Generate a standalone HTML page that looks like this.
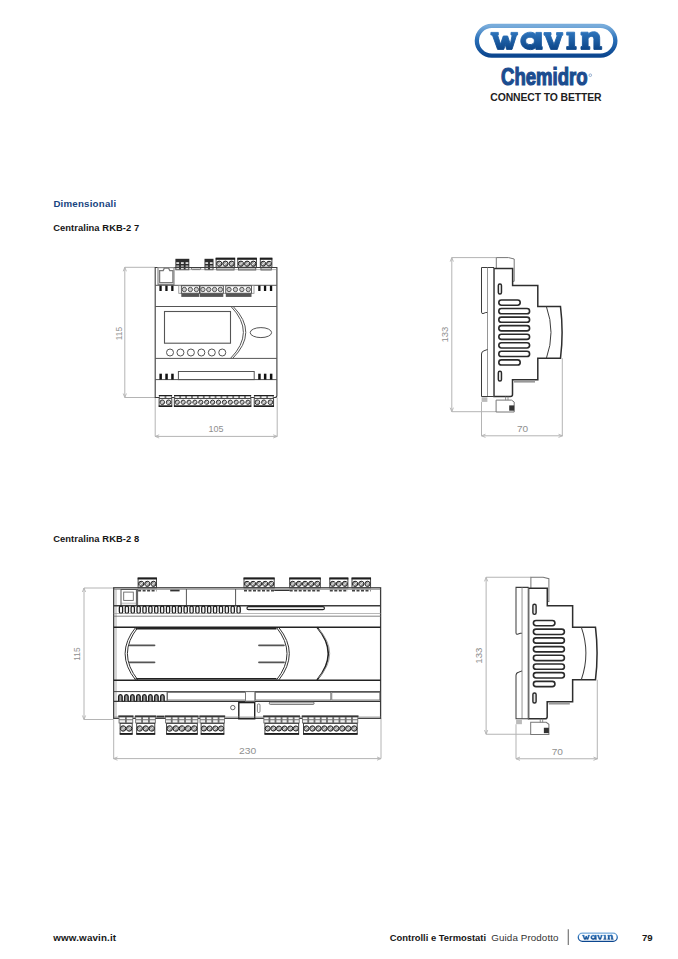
<!DOCTYPE html>
<html><head><meta charset="utf-8">
<style>
html,body{margin:0;padding:0;background:#fff;}
body{width:678px;height:959px;position:relative;overflow:hidden;font-family:"Liberation Sans",sans-serif;}
.t{position:absolute;white-space:nowrap;line-height:1;}
svg{position:absolute;left:0;top:0;}
</style></head><body>
<svg width="678" height="959" viewBox="0 0 678 959" font-family="Liberation Sans, sans-serif">
<defs>
<linearGradient id="wg" x1="0" y1="0" x2="0" y2="1">
<stop offset="0" stop-color="#78acdb"/><stop offset="0.45" stop-color="#2a70b9"/><stop offset="1" stop-color="#0b468f"/>
</linearGradient>
<linearGradient id="wg2" x1="0" y1="0" x2="0" y2="1">
<stop offset="0" stop-color="#2d74bc"/><stop offset="1" stop-color="#0c4588"/>
</linearGradient>
</defs>
<!-- header logo -->
<g>
<rect x="476.85" y="25.85" width="138.5" height="29.8" rx="14.9" ry="14.9" fill="#fff" stroke="url(#wg)" stroke-width="4.3"/>
<g fill="url(#wg2)" stroke="url(#wg2)" stroke-width="0.9" stroke-linejoin="round">
<path d="M490.9,32.4 H498.3 V35.0 H497.6 L500.5,44.2 L503.3,36.0 H507.6 L510.3,44.2 L512.2,35.0 H511.0 V32.4 H517.6 V35.0 H516.6 L512.0,49.4 H506.6 L505.3,44.6 L503.8,49.4 H497.6 L492.4,35.0 H490.9 Z"/>
<path fill-rule="evenodd" d="M541.4,32.4 V46.6 H542.2 V49.4 H535.9 V47.6 C534.5,49 532.6,49.6 530.4,49.6 C524.8,49.6 520.8,45.8 520.8,40.9 C520.8,36 524.8,32.2 530.4,32.2 C532.6,32.2 534.6,33 535.9,34.4 V32.4 Z M530,37.2 C527.4,37.2 525.6,38.8 525.6,40.9 C525.6,43 527.4,44.6 530,44.6 C532.6,44.6 534.4,43 534.4,40.9 C534.4,38.8 532.6,37.2 530,37.2 Z"/>
<path d="M544,32.6 H551 V35.2 H550.4 L554,44.4 L557.4,35.2 H556.6 V32.6 H562.8 V35.2 H561.9 L557.3,49.4 H550.7 L545.1,35.2 H544 Z"/>
<path d="M566.7,32.2 H574.6 V46.6 H576.2 V49.4 H566.7 V46.6 H569.1 V35.1 H566.7 Z"/>
<path d="M581,32.2 H588.1 V34.2 C589.6,32.6 591.4,31.8 593.6,31.8 C597.6,31.8 599.7,34.2 599.7,38.4 V46.6 H601.7 V49.4 H593.9 V39.4 C593.9,37.4 593,36.4 591.4,36.4 C589.6,36.4 588.1,37.6 588.1,39.6 V46.6 H589.8 V49.4 H581 V46.6 H582.4 V35.1 H581 Z"/>
</g>
</g>
<text x="501" y="84.6" font-size="23.5" font-weight="bold" fill="#1b4c8f" stroke="#1b4c8f" stroke-width="1.2" textLength="86.5" lengthAdjust="spacingAndGlyphs">Chemidro</text>
<circle cx="590.3" cy="75.2" r="1.3" fill="none" stroke="#7d9cc4" stroke-width="0.8"/>
<text x="490.3" y="100.8" font-size="10.4" font-weight="bold" fill="#1e1e1e" textLength="111.3" lengthAdjust="spacing">CONNECT TO BETTER</text>
<line x1="124.8" y1="267.3" x2="124.8" y2="397.5" stroke="#b4b4b4" stroke-width="1.0" />
<path d="M123.2,271.3 L124.8,267.3 L126.39999999999999,271.3" stroke="#b4b4b4" stroke-width="0.9" fill="none" />
<path d="M123.2,393.5 L124.8,397.5 L126.39999999999999,393.5" stroke="#b4b4b4" stroke-width="0.9" fill="none" />
<line x1="124.8" y1="267.3" x2="155" y2="267.3" stroke="#b4b4b4" stroke-width="1.0" />
<line x1="124.8" y1="397.5" x2="155" y2="397.5" stroke="#b4b4b4" stroke-width="1.0" />
<line x1="155.2" y1="436.4" x2="277.2" y2="436.4" stroke="#b4b4b4" stroke-width="1.0" />
<path d="M159.2,434.79999999999995 L155.2,436.4 L159.2,438.0" stroke="#b4b4b4" stroke-width="0.9" fill="none" />
<path d="M273.2,434.79999999999995 L277.2,436.4 L273.2,438.0" stroke="#b4b4b4" stroke-width="0.9" fill="none" />
<line x1="155.2" y1="397.5" x2="155.2" y2="436.4" stroke="#b4b4b4" stroke-width="1.0" />
<line x1="277.2" y1="397.5" x2="277.2" y2="436.4" stroke="#b4b4b4" stroke-width="1.0" />
<text x="121.8" y="333.5" font-size="9.5" fill="#8f8f8f" text-anchor="middle" transform="rotate(-90 121.8 333.5)" textLength="13.4" lengthAdjust="spacingAndGlyphs">115</text>
<text x="216.0" y="432.4" font-size="9.5" fill="#8f8f8f" text-anchor="middle" textLength="15.0" lengthAdjust="spacingAndGlyphs">105</text>
<rect x="175.4" y="258.8" width="13.90" height="11.40" fill="#2c2c2c"/>
<rect x="176.3" y="262.22" width="2.83" height="1.71" fill="#e8e8e8"/>
<rect x="176.3" y="265.412" width="2.83" height="1.37" fill="#bdbdbd"/>
<rect x="176.3" y="267.92" width="2.83" height="1.37" fill="#e0e0e0"/>
<rect x="180.93333333333334" y="262.22" width="2.83" height="1.71" fill="#e8e8e8"/>
<rect x="180.93333333333334" y="265.412" width="2.83" height="1.37" fill="#bdbdbd"/>
<rect x="180.93333333333334" y="267.92" width="2.83" height="1.37" fill="#e0e0e0"/>
<rect x="185.5666666666667" y="262.22" width="2.83" height="1.71" fill="#e8e8e8"/>
<rect x="185.5666666666667" y="265.412" width="2.83" height="1.37" fill="#bdbdbd"/>
<rect x="185.5666666666667" y="267.92" width="2.83" height="1.37" fill="#e0e0e0"/>
<rect x="204.5" y="258.8" width="9.00" height="11.40" fill="#2c2c2c"/>
<rect x="205.4" y="262.22" width="2.70" height="1.71" fill="#e8e8e8"/>
<rect x="205.4" y="265.412" width="2.70" height="1.37" fill="#bdbdbd"/>
<rect x="205.4" y="267.92" width="2.70" height="1.37" fill="#e0e0e0"/>
<rect x="209.9" y="262.22" width="2.70" height="1.71" fill="#e8e8e8"/>
<rect x="209.9" y="265.412" width="2.70" height="1.37" fill="#bdbdbd"/>
<rect x="209.9" y="267.92" width="2.70" height="1.37" fill="#e0e0e0"/>
<rect x="216.1" y="258.2" width="18.60" height="9.00" stroke="#333" stroke-width="0.9" fill="#fff" rx="0" />
<rect x="215.7" y="257.8" width="19.40" height="2.00" fill="#1e1e1e"/>
<circle cx="219.20" cy="263.70" r="2.603999999999999" stroke="#1e1e1e" stroke-width="1.0" fill="#a4a4a4"/>
<line x1="217.5074" y1="265.3926" x2="220.8926" y2="262.00739999999996" stroke="#f0f0f0" stroke-width="0.9" />
<circle cx="225.40" cy="263.70" r="2.603999999999999" stroke="#1e1e1e" stroke-width="1.0" fill="#a4a4a4"/>
<line x1="223.70739999999998" y1="265.3926" x2="227.09259999999998" y2="262.00739999999996" stroke="#f0f0f0" stroke-width="0.9" />
<circle cx="231.60" cy="263.70" r="2.603999999999999" stroke="#1e1e1e" stroke-width="1.0" fill="#a4a4a4"/>
<line x1="229.9074" y1="265.3926" x2="233.2926" y2="262.00739999999996" stroke="#f0f0f0" stroke-width="0.9" />
<rect x="237.8" y="258.2" width="18.60" height="9.00" stroke="#333" stroke-width="0.9" fill="#fff" rx="0" />
<rect x="237.4" y="257.8" width="19.40" height="2.00" fill="#1e1e1e"/>
<circle cx="240.90" cy="263.70" r="2.603999999999995" stroke="#1e1e1e" stroke-width="1.0" fill="#a4a4a4"/>
<line x1="239.2074" y1="265.39259999999996" x2="242.5926" y2="262.0074" stroke="#f0f0f0" stroke-width="0.9" />
<circle cx="247.10" cy="263.70" r="2.603999999999995" stroke="#1e1e1e" stroke-width="1.0" fill="#a4a4a4"/>
<line x1="245.4074" y1="265.39259999999996" x2="248.7926" y2="262.0074" stroke="#f0f0f0" stroke-width="0.9" />
<circle cx="253.30" cy="263.70" r="2.603999999999995" stroke="#1e1e1e" stroke-width="1.0" fill="#a4a4a4"/>
<line x1="251.60739999999998" y1="265.39259999999996" x2="254.99259999999998" y2="262.0074" stroke="#f0f0f0" stroke-width="0.9" />
<rect x="260.3" y="258.2" width="11.60" height="9.00" stroke="#333" stroke-width="0.9" fill="#fff" rx="0" />
<rect x="259.90000000000003" y="257.8" width="12.40" height="2.00" fill="#1e1e1e"/>
<circle cx="263.20" cy="263.70" r="2.435999999999993" stroke="#1e1e1e" stroke-width="1.0" fill="#a4a4a4"/>
<line x1="261.6166" y1="265.2834" x2="264.7834" y2="262.1166" stroke="#f0f0f0" stroke-width="0.9" />
<circle cx="269.00" cy="263.70" r="2.435999999999993" stroke="#1e1e1e" stroke-width="1.0" fill="#a4a4a4"/>
<line x1="267.4166" y1="265.2834" x2="270.5834" y2="262.1166" stroke="#f0f0f0" stroke-width="0.9" />
<rect x="216.7" y="267.4" width="17.40" height="2.60" stroke="#3a3a3a" stroke-width="0.8" fill="#c4c4c4" rx="0" />
<rect x="238.4" y="267.4" width="17.40" height="2.60" stroke="#3a3a3a" stroke-width="0.8" fill="#c4c4c4" rx="0" />
<rect x="260.90000000000003" y="267.4" width="10.40" height="2.60" stroke="#3a3a3a" stroke-width="0.8" fill="#c4c4c4" rx="0" />
<rect x="191.4" y="267.6" width="9.30" height="2.00" stroke="#555" stroke-width="0.8" fill="#ddd" rx="1" />
<path d="M155.2,267.5 H276.9 V395.5 Q276.9,397.5 274.9,397.5 H155.2 Z" stroke="#3c3c3c" stroke-width="1.1" fill="none" />
<line x1="175" y1="269.6" x2="276.9" y2="269.6" stroke="#888" stroke-width="0.6" />
<rect x="158.0" y="267.6" width="16.00" height="16.80" stroke="#8a8a8a" stroke-width="1.2" fill="none" rx="0" />
<path d="M159.6,270.6 H163.2 L164.3,268.2 H168.6 L169.8,270.6 H172.9 V282.6 H159.6 Z" stroke="#7a7a7a" stroke-width="1.3" fill="none" />
<line x1="155.2" y1="285.3" x2="276.9" y2="285.3" stroke="#555" stroke-width="1.0" />
<line x1="155.2" y1="306.5" x2="276.9" y2="306.5" stroke="#555" stroke-width="1.0" />
<line x1="155.2" y1="358.4" x2="276.9" y2="358.4" stroke="#555" stroke-width="1.0" />
<line x1="155.2" y1="379.6" x2="276.9" y2="379.6" stroke="#555" stroke-width="1.0" />
<rect x="159.4" y="285.6" width="2.30" height="5.40" fill="#111"/>
<rect x="159.4" y="373.7" width="2.50" height="5.90" fill="#111"/>
<rect x="165.3" y="285.6" width="2.30" height="5.40" fill="#111"/>
<rect x="165.3" y="373.7" width="2.50" height="5.90" fill="#111"/>
<rect x="171.2" y="285.6" width="2.30" height="5.40" fill="#111"/>
<rect x="171.2" y="373.7" width="2.50" height="5.90" fill="#111"/>
<rect x="258.2" y="285.6" width="2.30" height="5.40" fill="#111"/>
<rect x="258.2" y="373.7" width="2.50" height="5.90" fill="#111"/>
<rect x="263.9" y="285.6" width="2.30" height="5.40" fill="#111"/>
<rect x="263.9" y="373.7" width="2.50" height="5.90" fill="#111"/>
<rect x="269.9" y="285.6" width="2.30" height="5.40" fill="#111"/>
<rect x="269.9" y="373.7" width="2.50" height="5.90" fill="#111"/>
<rect x="178.8" y="285.6" width="75.20" height="7.70" stroke="#888" stroke-width="0.8" fill="#fff" rx="0" />
<rect x="181.3" y="285.8" width="18.10" height="7.40" stroke="#333" stroke-width="0.8" fill="#fff" rx="0" />
<circle cx="184.32" cy="289.50" r="2.2" stroke="#333" stroke-width="0.8" fill="#ccc"/>
<circle cx="190.35" cy="289.50" r="2.2" stroke="#333" stroke-width="0.8" fill="#ccc"/>
<circle cx="196.38" cy="289.50" r="2.2" stroke="#333" stroke-width="0.8" fill="#ccc"/>
<rect x="181.3" y="293.5" width="18.10" height="3.40" fill="#555"/>
<rect x="200.0" y="285.8" width="23.30" height="7.40" stroke="#333" stroke-width="0.8" fill="#fff" rx="0" />
<circle cx="202.91" cy="289.50" r="2.2" stroke="#333" stroke-width="0.8" fill="#ccc"/>
<circle cx="208.74" cy="289.50" r="2.2" stroke="#333" stroke-width="0.8" fill="#ccc"/>
<circle cx="214.56" cy="289.50" r="2.2" stroke="#333" stroke-width="0.8" fill="#ccc"/>
<circle cx="220.39" cy="289.50" r="2.2" stroke="#333" stroke-width="0.8" fill="#ccc"/>
<rect x="200.0" y="293.5" width="23.30" height="3.40" fill="#555"/>
<rect x="225.8" y="285.8" width="25.70" height="7.40" stroke="#333" stroke-width="0.8" fill="#fff" rx="0" />
<circle cx="229.01" cy="289.50" r="2.2" stroke="#333" stroke-width="0.8" fill="#ccc"/>
<circle cx="235.44" cy="289.50" r="2.2" stroke="#333" stroke-width="0.8" fill="#ccc"/>
<circle cx="241.86" cy="289.50" r="2.2" stroke="#333" stroke-width="0.8" fill="#ccc"/>
<circle cx="248.29" cy="289.50" r="2.2" stroke="#333" stroke-width="0.8" fill="#ccc"/>
<rect x="225.8" y="293.5" width="25.70" height="3.40" fill="#555"/>
<rect x="164.5" y="311.5" width="66.00" height="31.70" stroke="#555" stroke-width="1.1" fill="none" rx="0" />
<circle cx="170.00" cy="352.50" r="3.5" stroke="#555" stroke-width="1.0" fill="none"/>
<circle cx="180.45" cy="352.50" r="3.5" stroke="#555" stroke-width="1.0" fill="none"/>
<circle cx="190.90" cy="352.50" r="3.5" stroke="#555" stroke-width="1.0" fill="none"/>
<circle cx="201.35" cy="352.50" r="3.5" stroke="#555" stroke-width="1.0" fill="none"/>
<circle cx="211.80" cy="352.50" r="3.5" stroke="#555" stroke-width="1.0" fill="none"/>
<circle cx="222.25" cy="352.50" r="3.5" stroke="#555" stroke-width="1.0" fill="none"/>
<path d="M231,306.5 Q256,332.4 230.5,358.4" stroke="#555" stroke-width="1.0" fill="none" />
<path d="M233.2,306.5 Q258.6,332.4 232.7,358.4" stroke="#555" stroke-width="1.0" fill="none" />
<ellipse cx="260.9" cy="332.6" rx="10.7" ry="5" stroke="#555" stroke-width="1" fill="none"/>
<rect x="178.4" y="371.5" width="75.80" height="8.10" stroke="#555" stroke-width="1.0" fill="none" rx="0" />
<rect x="159.1" y="395.3" width="12.70" height="3.30" fill="#6e6e6e"/>
<rect x="160.0" y="396.125" width="4.55" height="1.98" fill="#f4f4f4"/>
<rect x="166.35" y="396.125" width="4.55" height="1.98" fill="#f4f4f4"/>
<rect x="158.79999999999998" y="395.0" width="13.30" height="1.20" fill="#1e1e1e"/>
<rect x="159.1" y="398.6" width="12.70" height="7.90" stroke="#333" stroke-width="0.9" fill="#fff" rx="0" />
<circle cx="162.28" cy="402.25" r="2.286000000000003" stroke="#1e1e1e" stroke-width="0.9" fill="#b4b4b4"/>
<line x1="160.7891" y1="403.7359" x2="163.76090000000002" y2="400.7641" stroke="#f0f0f0" stroke-width="0.9" />
<circle cx="168.62" cy="402.25" r="2.286000000000003" stroke="#1e1e1e" stroke-width="0.9" fill="#b4b4b4"/>
<line x1="167.13909999999998" y1="403.7359" x2="170.11090000000002" y2="400.7641" stroke="#f0f0f0" stroke-width="0.9" />
<rect x="158.79999999999998" y="405.3" width="13.30" height="1.70" fill="#1e1e1e"/>
<rect x="174.3" y="395.3" width="76.60" height="3.30" fill="#6e6e6e"/>
<rect x="175.20000000000002" y="396.125" width="4.09" height="1.98" fill="#f4f4f4"/>
<rect x="181.0923076923077" y="396.125" width="4.09" height="1.98" fill="#f4f4f4"/>
<rect x="186.9846153846154" y="396.125" width="4.09" height="1.98" fill="#f4f4f4"/>
<rect x="192.87692307692308" y="396.125" width="4.09" height="1.98" fill="#f4f4f4"/>
<rect x="198.76923076923077" y="396.125" width="4.09" height="1.98" fill="#f4f4f4"/>
<rect x="204.66153846153847" y="396.125" width="4.09" height="1.98" fill="#f4f4f4"/>
<rect x="210.55384615384617" y="396.125" width="4.09" height="1.98" fill="#f4f4f4"/>
<rect x="216.44615384615386" y="396.125" width="4.09" height="1.98" fill="#f4f4f4"/>
<rect x="222.33846153846156" y="396.125" width="4.09" height="1.98" fill="#f4f4f4"/>
<rect x="228.23076923076925" y="396.125" width="4.09" height="1.98" fill="#f4f4f4"/>
<rect x="234.12307692307692" y="396.125" width="4.09" height="1.98" fill="#f4f4f4"/>
<rect x="240.01538461538465" y="396.125" width="4.09" height="1.98" fill="#f4f4f4"/>
<rect x="245.90769230769232" y="396.125" width="4.09" height="1.98" fill="#f4f4f4"/>
<rect x="174.0" y="395.0" width="77.20" height="1.20" fill="#1e1e1e"/>
<rect x="174.3" y="398.6" width="76.60" height="7.90" stroke="#333" stroke-width="0.9" fill="#fff" rx="0" />
<circle cx="177.25" cy="402.25" r="2.121230769230769" stroke="#1e1e1e" stroke-width="0.9" fill="#b4b4b4"/>
<line x1="175.86735384615383" y1="403.6288" x2="178.62495384615386" y2="400.8712" stroke="#f0f0f0" stroke-width="0.9" />
<circle cx="183.14" cy="402.25" r="2.121230769230769" stroke="#1e1e1e" stroke-width="0.9" fill="#b4b4b4"/>
<line x1="181.75966153846153" y1="403.6288" x2="184.51726153846155" y2="400.8712" stroke="#f0f0f0" stroke-width="0.9" />
<circle cx="189.03" cy="402.25" r="2.121230769230769" stroke="#1e1e1e" stroke-width="0.9" fill="#b4b4b4"/>
<line x1="187.65196923076923" y1="403.6288" x2="190.40956923076925" y2="400.8712" stroke="#f0f0f0" stroke-width="0.9" />
<circle cx="194.92" cy="402.25" r="2.121230769230769" stroke="#1e1e1e" stroke-width="0.9" fill="#b4b4b4"/>
<line x1="193.54427692307692" y1="403.6288" x2="196.30187692307695" y2="400.8712" stroke="#f0f0f0" stroke-width="0.9" />
<circle cx="200.82" cy="402.25" r="2.121230769230769" stroke="#1e1e1e" stroke-width="0.9" fill="#b4b4b4"/>
<line x1="199.43658461538462" y1="403.6288" x2="202.19418461538464" y2="400.8712" stroke="#f0f0f0" stroke-width="0.9" />
<circle cx="206.71" cy="402.25" r="2.121230769230769" stroke="#1e1e1e" stroke-width="0.9" fill="#b4b4b4"/>
<line x1="205.3288923076923" y1="403.6288" x2="208.08649230769234" y2="400.8712" stroke="#f0f0f0" stroke-width="0.9" />
<circle cx="212.60" cy="402.25" r="2.121230769230769" stroke="#1e1e1e" stroke-width="0.9" fill="#b4b4b4"/>
<line x1="211.2212" y1="403.6288" x2="213.97880000000004" y2="400.8712" stroke="#f0f0f0" stroke-width="0.9" />
<circle cx="218.49" cy="402.25" r="2.121230769230769" stroke="#1e1e1e" stroke-width="0.9" fill="#b4b4b4"/>
<line x1="217.11350769230768" y1="403.6288" x2="219.8711076923077" y2="400.8712" stroke="#f0f0f0" stroke-width="0.9" />
<circle cx="224.38" cy="402.25" r="2.121230769230769" stroke="#1e1e1e" stroke-width="0.9" fill="#b4b4b4"/>
<line x1="223.00581538461537" y1="403.6288" x2="225.7634153846154" y2="400.8712" stroke="#f0f0f0" stroke-width="0.9" />
<circle cx="230.28" cy="402.25" r="2.121230769230769" stroke="#1e1e1e" stroke-width="0.9" fill="#b4b4b4"/>
<line x1="228.89812307692307" y1="403.6288" x2="231.6557230769231" y2="400.8712" stroke="#f0f0f0" stroke-width="0.9" />
<circle cx="236.17" cy="402.25" r="2.121230769230769" stroke="#1e1e1e" stroke-width="0.9" fill="#b4b4b4"/>
<line x1="234.79043076923077" y1="403.6288" x2="237.5480307692308" y2="400.8712" stroke="#f0f0f0" stroke-width="0.9" />
<circle cx="242.06" cy="402.25" r="2.121230769230769" stroke="#1e1e1e" stroke-width="0.9" fill="#b4b4b4"/>
<line x1="240.68273846153846" y1="403.6288" x2="243.4403384615385" y2="400.8712" stroke="#f0f0f0" stroke-width="0.9" />
<circle cx="247.95" cy="402.25" r="2.121230769230769" stroke="#1e1e1e" stroke-width="0.9" fill="#b4b4b4"/>
<line x1="246.57504615384613" y1="403.6288" x2="249.33264615384616" y2="400.8712" stroke="#f0f0f0" stroke-width="0.9" />
<rect x="174.0" y="405.3" width="77.20" height="1.70" fill="#1e1e1e"/>
<rect x="254.2" y="395.3" width="19.40" height="3.30" fill="#6e6e6e"/>
<rect x="255.1" y="396.125" width="4.67" height="1.98" fill="#f4f4f4"/>
<rect x="261.56666666666666" y="396.125" width="4.67" height="1.98" fill="#f4f4f4"/>
<rect x="268.0333333333333" y="396.125" width="4.67" height="1.98" fill="#f4f4f4"/>
<rect x="253.89999999999998" y="395.0" width="20.00" height="1.20" fill="#1e1e1e"/>
<rect x="254.2" y="398.6" width="19.40" height="7.90" stroke="#333" stroke-width="0.9" fill="#fff" rx="0" />
<circle cx="257.43" cy="402.25" r="2.3280000000000043" stroke="#1e1e1e" stroke-width="0.9" fill="#b4b4b4"/>
<line x1="255.92013333333333" y1="403.7632" x2="258.9465333333333" y2="400.7368" stroke="#f0f0f0" stroke-width="0.9" />
<circle cx="263.90" cy="402.25" r="2.3280000000000043" stroke="#1e1e1e" stroke-width="0.9" fill="#b4b4b4"/>
<line x1="262.3868" y1="403.7632" x2="265.41319999999996" y2="400.7368" stroke="#f0f0f0" stroke-width="0.9" />
<circle cx="270.37" cy="402.25" r="2.3280000000000043" stroke="#1e1e1e" stroke-width="0.9" fill="#b4b4b4"/>
<line x1="268.8534666666667" y1="403.7632" x2="271.87986666666666" y2="400.7368" stroke="#f0f0f0" stroke-width="0.9" />
<rect x="253.89999999999998" y="405.3" width="20.00" height="1.70" fill="#1e1e1e"/>
<g>
<line x1="451.8" y1="257.6" x2="451.8" y2="411.7" stroke="#b4b4b4" stroke-width="1.0" />
<path d="M450.2,261.6 L451.8,257.6 L453.40000000000003,261.6" stroke="#b4b4b4" stroke-width="0.9" fill="none" />
<path d="M450.2,407.7 L451.8,411.7 L453.40000000000003,407.7" stroke="#b4b4b4" stroke-width="0.9" fill="none" />
<line x1="451.8" y1="257.6" x2="496.3" y2="257.6" stroke="#b4b4b4" stroke-width="1.0" />
<line x1="451.8" y1="411.7" x2="496.1" y2="411.7" stroke="#b4b4b4" stroke-width="1.0" />
<line x1="481.5" y1="435.8" x2="562.5" y2="435.8" stroke="#b4b4b4" stroke-width="1.0" />
<path d="M485.5,434.2 L481.5,435.8 L485.5,437.40000000000003" stroke="#b4b4b4" stroke-width="0.9" fill="none" />
<path d="M558.5,434.2 L562.5,435.8 L558.5,437.40000000000003" stroke="#b4b4b4" stroke-width="0.9" fill="none" />
<line x1="481.5" y1="402" x2="481.5" y2="435.8" stroke="#b4b4b4" stroke-width="1.0" />
<line x1="562.3" y1="358.2" x2="562.3" y2="435.8" stroke="#b4b4b4" stroke-width="1.0" />
<text x="448.0" y="334.5" font-size="9.5" fill="#8f8f8f" text-anchor="middle" transform="rotate(-90 448.0 334.5)" textLength="15.8" lengthAdjust="spacingAndGlyphs">133</text>
<text x="522.6" y="431.7" font-size="9.5" fill="#8f8f8f" text-anchor="middle" textLength="11.2" lengthAdjust="spacingAndGlyphs">70</text>
<path d="M496.3,268 V257.6 H508.5 L514.2,259 V281.3 H512.6" stroke="#777" stroke-width="1.0" fill="none" />
<path d="M494,267.5 H481.5 V312.2 Q481.5,313.6 483,313.6 L485.8,312.5 H487.5" stroke="#3c3c3c" stroke-width="1.0" fill="none" />
<line x1="487.5" y1="267.5" x2="487.5" y2="396.5" stroke="#8a8a8a" stroke-width="0.9" />
<path d="M487.5,349.5 L484,350.8 Q481.5,351.5 481.5,354 V396.5 H494" stroke="#3c3c3c" stroke-width="1.0" fill="none" />
<rect x="481.6" y="397.3" width="5.80" height="4.60" fill="#bbb"/>
<path d="M494,396.5 V268.4 H512.6 V285.5 H537.8 V306.6 H560.5 Q563.7,332.4 560.5,358.2 H537.8 V379.8 H512.5 V394.5 Q512.5,396.5 510.5,396.5 Z" stroke="#2e2e2e" stroke-width="1.5" fill="none" />
<line x1="493.8" y1="268.4" x2="493.8" y2="396.5" stroke="#777" stroke-width="1.0" />
<path d="M546.4,306.6 Q555.6,332.4 546.4,358.2" stroke="#3c3c3c" stroke-width="1.0" fill="none" />
<rect x="514" y="380.3" width="21.00" height="2.30" fill="#999"/>
<rect x="498.3" y="284.0" width="3.20" height="10.00" stroke="#2a2a2a" stroke-width="1.4" fill="#e6e6e6" rx="1.5" />
<rect x="498.3" y="371.3" width="3.20" height="9.70" stroke="#2a2a2a" stroke-width="1.4" fill="#e6e6e6" rx="1.5" />
<rect x="498.8" y="300.0" width="21.40" height="5.20" stroke="#2a2a2a" stroke-width="1.6" fill="none" rx="2.6" />
<rect x="498.8" y="308.55" width="30.80" height="5.20" stroke="#2a2a2a" stroke-width="1.6" fill="none" rx="2.6" />
<rect x="498.8" y="317.1" width="30.80" height="5.20" stroke="#2a2a2a" stroke-width="1.6" fill="none" rx="2.6" />
<rect x="498.8" y="325.65" width="30.80" height="5.20" stroke="#2a2a2a" stroke-width="1.6" fill="none" rx="2.6" />
<rect x="498.8" y="334.2" width="30.80" height="5.20" stroke="#2a2a2a" stroke-width="1.6" fill="none" rx="2.6" />
<rect x="498.8" y="342.75" width="30.80" height="5.20" stroke="#2a2a2a" stroke-width="1.6" fill="none" rx="2.6" />
<rect x="498.8" y="351.3" width="30.80" height="5.20" stroke="#2a2a2a" stroke-width="1.6" fill="none" rx="2.6" />
<rect x="498.8" y="359.85" width="21.40" height="5.20" stroke="#2a2a2a" stroke-width="1.6" fill="none" rx="2.6" />
<path d="M496.1,400.1 H511.5 L514.2,402 V412 H496.1 Z" stroke="#777" stroke-width="1.0" fill="none" />
<rect x="509.2" y="405.4" width="5.00" height="5.30" fill="#333"/>
<line x1="505.6" y1="396.5" x2="505.6" y2="400.1" stroke="#777" stroke-width="0.8" />
<line x1="508.0" y1="396.5" x2="508.0" y2="400.1" stroke="#777" stroke-width="0.8" />
</g>
<g transform="translate(516,577.4) scale(1.006,1.018) translate(-481.5,-257.7)">
<line x1="451.8" y1="257.6" x2="451.8" y2="411.7" stroke="#b4b4b4" stroke-width="1.0" />
<path d="M450.2,261.6 L451.8,257.6 L453.40000000000003,261.6" stroke="#b4b4b4" stroke-width="0.9" fill="none" />
<path d="M450.2,407.7 L451.8,411.7 L453.40000000000003,407.7" stroke="#b4b4b4" stroke-width="0.9" fill="none" />
<line x1="451.8" y1="257.6" x2="496.3" y2="257.6" stroke="#b4b4b4" stroke-width="1.0" />
<line x1="451.8" y1="411.7" x2="496.1" y2="411.7" stroke="#b4b4b4" stroke-width="1.0" />
<line x1="481.5" y1="435.8" x2="562.5" y2="435.8" stroke="#b4b4b4" stroke-width="1.0" />
<path d="M485.5,434.2 L481.5,435.8 L485.5,437.40000000000003" stroke="#b4b4b4" stroke-width="0.9" fill="none" />
<path d="M558.5,434.2 L562.5,435.8 L558.5,437.40000000000003" stroke="#b4b4b4" stroke-width="0.9" fill="none" />
<line x1="481.5" y1="402" x2="481.5" y2="435.8" stroke="#b4b4b4" stroke-width="1.0" />
<line x1="562.3" y1="358.2" x2="562.3" y2="435.8" stroke="#b4b4b4" stroke-width="1.0" />
<text x="448.0" y="334.5" font-size="9.5" fill="#8f8f8f" text-anchor="middle" transform="rotate(-90 448.0 334.5)" textLength="15.8" lengthAdjust="spacingAndGlyphs">133</text>
<text x="522.6" y="431.7" font-size="9.5" fill="#8f8f8f" text-anchor="middle" textLength="11.2" lengthAdjust="spacingAndGlyphs">70</text>
<path d="M496.3,268 V257.6 H508.5 L514.2,259 V281.3 H512.6" stroke="#777" stroke-width="1.0" fill="none" />
<path d="M494,267.5 H481.5 V312.2 Q481.5,313.6 483,313.6 L485.8,312.5 H487.5" stroke="#3c3c3c" stroke-width="1.0" fill="none" />
<line x1="487.5" y1="267.5" x2="487.5" y2="396.5" stroke="#8a8a8a" stroke-width="0.9" />
<path d="M487.5,349.5 L484,350.8 Q481.5,351.5 481.5,354 V396.5 H494" stroke="#3c3c3c" stroke-width="1.0" fill="none" />
<rect x="481.6" y="397.3" width="5.80" height="4.60" fill="#bbb"/>
<path d="M494,396.5 V268.4 H512.6 V285.5 H537.8 V306.6 H560.5 Q563.7,332.4 560.5,358.2 H537.8 V379.8 H512.5 V394.5 Q512.5,396.5 510.5,396.5 Z" stroke="#2e2e2e" stroke-width="1.5" fill="none" />
<line x1="493.8" y1="268.4" x2="493.8" y2="396.5" stroke="#777" stroke-width="1.0" />
<path d="M546.4,306.6 Q555.6,332.4 546.4,358.2" stroke="#3c3c3c" stroke-width="1.0" fill="none" />
<rect x="514" y="380.3" width="21.00" height="2.30" fill="#999"/>
<rect x="498.3" y="284.0" width="3.20" height="10.00" stroke="#2a2a2a" stroke-width="1.4" fill="#e6e6e6" rx="1.5" />
<rect x="498.3" y="371.3" width="3.20" height="9.70" stroke="#2a2a2a" stroke-width="1.4" fill="#e6e6e6" rx="1.5" />
<rect x="498.8" y="300.0" width="21.40" height="5.20" stroke="#2a2a2a" stroke-width="1.6" fill="none" rx="2.6" />
<rect x="498.8" y="308.55" width="30.80" height="5.20" stroke="#2a2a2a" stroke-width="1.6" fill="none" rx="2.6" />
<rect x="498.8" y="317.1" width="30.80" height="5.20" stroke="#2a2a2a" stroke-width="1.6" fill="none" rx="2.6" />
<rect x="498.8" y="325.65" width="30.80" height="5.20" stroke="#2a2a2a" stroke-width="1.6" fill="none" rx="2.6" />
<rect x="498.8" y="334.2" width="30.80" height="5.20" stroke="#2a2a2a" stroke-width="1.6" fill="none" rx="2.6" />
<rect x="498.8" y="342.75" width="30.80" height="5.20" stroke="#2a2a2a" stroke-width="1.6" fill="none" rx="2.6" />
<rect x="498.8" y="351.3" width="30.80" height="5.20" stroke="#2a2a2a" stroke-width="1.6" fill="none" rx="2.6" />
<rect x="498.8" y="359.85" width="21.40" height="5.20" stroke="#2a2a2a" stroke-width="1.6" fill="none" rx="2.6" />
<path d="M496.1,400.1 H511.5 L514.2,402 V412 H496.1 Z" stroke="#777" stroke-width="1.0" fill="none" />
<rect x="509.2" y="405.4" width="5.00" height="5.30" fill="#333"/>
<line x1="505.6" y1="396.5" x2="505.6" y2="400.1" stroke="#777" stroke-width="0.8" />
<line x1="508.0" y1="396.5" x2="508.0" y2="400.1" stroke="#777" stroke-width="0.8" />
</g>
<line x1="84" y1="588" x2="84" y2="719.5" stroke="#b4b4b4" stroke-width="1.0" />
<path d="M82.4,592 L84,588 L85.6,592" stroke="#b4b4b4" stroke-width="0.9" fill="none" />
<path d="M82.4,715.5 L84,719.5 L85.6,715.5" stroke="#b4b4b4" stroke-width="0.9" fill="none" />
<line x1="84" y1="588" x2="113.7" y2="588" stroke="#b4b4b4" stroke-width="1.0" />
<line x1="84" y1="719.5" x2="113.7" y2="719.5" stroke="#b4b4b4" stroke-width="1.0" />
<line x1="113.5" y1="758.6" x2="381.0" y2="758.6" stroke="#b4b4b4" stroke-width="1.0" />
<path d="M117.5,757.0 L113.5,758.6 L117.5,760.2" stroke="#b4b4b4" stroke-width="0.9" fill="none" />
<path d="M377.0,757.0 L381.0,758.6 L377.0,760.2" stroke="#b4b4b4" stroke-width="0.9" fill="none" />
<line x1="113.7" y1="719.5" x2="113.7" y2="758.6" stroke="#b4b4b4" stroke-width="1.0" />
<line x1="381" y1="718.5" x2="381" y2="758.6" stroke="#b4b4b4" stroke-width="1.0" />
<text x="79.9" y="654.0" font-size="9.5" fill="#8f8f8f" text-anchor="middle" transform="rotate(-90 79.9 654.0)" textLength="13.4" lengthAdjust="spacingAndGlyphs">115</text>
<text x="247.6" y="754.3" font-size="9.5" fill="#8f8f8f" text-anchor="middle" textLength="17.2" lengthAdjust="spacingAndGlyphs">230</text>
<rect x="138.1" y="578.0" width="18.40" height="9.80" stroke="#333" stroke-width="0.9" fill="#fff" rx="0" />
<rect x="137.7" y="577.6" width="19.20" height="1.90" fill="#1e1e1e"/>
<circle cx="141.17" cy="583.85" r="2.576000000000001" stroke="#1e1e1e" stroke-width="1.0" fill="#a4a4a4"/>
<line x1="139.49226666666667" y1="585.5244" x2="142.84106666666665" y2="582.1756" stroke="#f0f0f0" stroke-width="0.9" />
<circle cx="147.30" cy="583.85" r="2.576000000000001" stroke="#1e1e1e" stroke-width="1.0" fill="#a4a4a4"/>
<line x1="145.62560000000002" y1="585.5244" x2="148.9744" y2="582.1756" stroke="#f0f0f0" stroke-width="0.9" />
<circle cx="153.43" cy="583.85" r="2.576000000000001" stroke="#1e1e1e" stroke-width="1.0" fill="#a4a4a4"/>
<line x1="151.75893333333335" y1="585.5244" x2="155.10773333333333" y2="582.1756" stroke="#f0f0f0" stroke-width="0.9" />
<line x1="138.1" y1="590.6" x2="156.5" y2="590.6" stroke="#444" stroke-width="1.6" stroke-dasharray="3 1.5"/>
<rect x="244.0" y="578.0" width="30.20" height="9.80" stroke="#333" stroke-width="0.9" fill="#fff" rx="0" />
<rect x="243.6" y="577.6" width="31.00" height="1.90" fill="#1e1e1e"/>
<circle cx="247.02" cy="583.85" r="2.5367999999999986" stroke="#1e1e1e" stroke-width="1.0" fill="#a4a4a4"/>
<line x1="245.37108" y1="585.49892" x2="248.66892" y2="582.20108" stroke="#f0f0f0" stroke-width="0.9" />
<circle cx="253.06" cy="583.85" r="2.5367999999999986" stroke="#1e1e1e" stroke-width="1.0" fill="#a4a4a4"/>
<line x1="251.41108" y1="585.49892" x2="254.70892" y2="582.20108" stroke="#f0f0f0" stroke-width="0.9" />
<circle cx="259.10" cy="583.85" r="2.5367999999999986" stroke="#1e1e1e" stroke-width="1.0" fill="#a4a4a4"/>
<line x1="257.45108000000005" y1="585.49892" x2="260.74892" y2="582.20108" stroke="#f0f0f0" stroke-width="0.9" />
<circle cx="265.14" cy="583.85" r="2.5367999999999986" stroke="#1e1e1e" stroke-width="1.0" fill="#a4a4a4"/>
<line x1="263.49108" y1="585.49892" x2="266.78891999999996" y2="582.20108" stroke="#f0f0f0" stroke-width="0.9" />
<circle cx="271.18" cy="583.85" r="2.5367999999999986" stroke="#1e1e1e" stroke-width="1.0" fill="#a4a4a4"/>
<line x1="269.53108000000003" y1="585.49892" x2="272.82892" y2="582.20108" stroke="#f0f0f0" stroke-width="0.9" />
<line x1="244.0" y1="590.6" x2="274.2" y2="590.6" stroke="#444" stroke-width="1.6" stroke-dasharray="3 1.5"/>
<rect x="289.7" y="578.0" width="30.60" height="9.80" stroke="#333" stroke-width="0.9" fill="#fff" rx="0" />
<rect x="289.3" y="577.6" width="31.40" height="1.90" fill="#1e1e1e"/>
<circle cx="292.76" cy="583.85" r="2.570400000000002" stroke="#1e1e1e" stroke-width="1.0" fill="#a4a4a4"/>
<line x1="291.08924" y1="585.52076" x2="294.43075999999996" y2="582.17924" stroke="#f0f0f0" stroke-width="0.9" />
<circle cx="298.88" cy="583.85" r="2.570400000000002" stroke="#1e1e1e" stroke-width="1.0" fill="#a4a4a4"/>
<line x1="297.20924" y1="585.52076" x2="300.55075999999997" y2="582.17924" stroke="#f0f0f0" stroke-width="0.9" />
<circle cx="305.00" cy="583.85" r="2.570400000000002" stroke="#1e1e1e" stroke-width="1.0" fill="#a4a4a4"/>
<line x1="303.32924" y1="585.52076" x2="306.67076" y2="582.17924" stroke="#f0f0f0" stroke-width="0.9" />
<circle cx="311.12" cy="583.85" r="2.570400000000002" stroke="#1e1e1e" stroke-width="1.0" fill="#a4a4a4"/>
<line x1="309.44924000000003" y1="585.52076" x2="312.79076" y2="582.17924" stroke="#f0f0f0" stroke-width="0.9" />
<circle cx="317.24" cy="583.85" r="2.570400000000002" stroke="#1e1e1e" stroke-width="1.0" fill="#a4a4a4"/>
<line x1="315.56924000000004" y1="585.52076" x2="318.91076" y2="582.17924" stroke="#f0f0f0" stroke-width="0.9" />
<line x1="289.7" y1="590.6" x2="320.3" y2="590.6" stroke="#444" stroke-width="1.6" stroke-dasharray="3 1.5"/>
<rect x="329.8" y="578.0" width="18.10" height="9.80" stroke="#333" stroke-width="0.9" fill="#fff" rx="0" />
<rect x="329.40000000000003" y="577.6" width="18.90" height="1.90" fill="#1e1e1e"/>
<circle cx="332.82" cy="583.85" r="2.533999999999995" stroke="#1e1e1e" stroke-width="1.0" fill="#a4a4a4"/>
<line x1="331.16956666666664" y1="585.4971" x2="334.4637666666667" y2="582.2029" stroke="#f0f0f0" stroke-width="0.9" />
<circle cx="338.85" cy="583.85" r="2.533999999999995" stroke="#1e1e1e" stroke-width="1.0" fill="#a4a4a4"/>
<line x1="337.2029" y1="585.4971" x2="340.49710000000005" y2="582.2029" stroke="#f0f0f0" stroke-width="0.9" />
<circle cx="344.88" cy="583.85" r="2.533999999999995" stroke="#1e1e1e" stroke-width="1.0" fill="#a4a4a4"/>
<line x1="343.2362333333333" y1="585.4971" x2="346.53043333333335" y2="582.2029" stroke="#f0f0f0" stroke-width="0.9" />
<line x1="329.8" y1="590.6" x2="347.9" y2="590.6" stroke="#444" stroke-width="1.6" stroke-dasharray="3 1.5"/>
<rect x="352.0" y="578.0" width="18.60" height="9.80" stroke="#333" stroke-width="0.9" fill="#fff" rx="0" />
<rect x="351.6" y="577.6" width="19.40" height="1.90" fill="#1e1e1e"/>
<circle cx="355.10" cy="583.85" r="2.6040000000000028" stroke="#1e1e1e" stroke-width="1.0" fill="#a4a4a4"/>
<line x1="353.4074" y1="585.5426" x2="356.79260000000005" y2="582.1574" stroke="#f0f0f0" stroke-width="0.9" />
<circle cx="361.30" cy="583.85" r="2.6040000000000028" stroke="#1e1e1e" stroke-width="1.0" fill="#a4a4a4"/>
<line x1="359.6074" y1="585.5426" x2="362.99260000000004" y2="582.1574" stroke="#f0f0f0" stroke-width="0.9" />
<circle cx="367.50" cy="583.85" r="2.6040000000000028" stroke="#1e1e1e" stroke-width="1.0" fill="#a4a4a4"/>
<line x1="365.8074" y1="585.5426" x2="369.1926" y2="582.1574" stroke="#f0f0f0" stroke-width="0.9" />
<line x1="352.0" y1="590.6" x2="370.6" y2="590.6" stroke="#444" stroke-width="1.6" stroke-dasharray="3 1.5"/>
<rect x="170.2" y="589.6" width="9.40" height="1.80" fill="#333"/>
<line x1="274.2" y1="590.4" x2="289.7" y2="590.4" stroke="#333" stroke-width="1.2" />
<rect x="113.7" y="587.8" width="266.90" height="130.50" stroke="#3c3c3c" stroke-width="1.3" fill="none" rx="0" />
<line x1="113.7" y1="589.4" x2="380.6" y2="589.4" stroke="#777" stroke-width="0.7" />
<line x1="116.0" y1="589.4" x2="116.0" y2="718" stroke="#777" stroke-width="0.6" />
<rect x="121.0" y="589.5" width="15.40" height="15.90" stroke="#555" stroke-width="1.0" fill="none" rx="0" />
<rect x="123.7" y="592.1" width="9.60" height="8.30" stroke="#666" stroke-width="0.9" fill="none" rx="0" />
<line x1="121" y1="603.2" x2="136.4" y2="603.2" stroke="#888" stroke-width="0.6" />
<line x1="137.6" y1="589" x2="137.6" y2="605.4" stroke="#555" stroke-width="1.0" />
<line x1="186.4" y1="589" x2="186.4" y2="605.4" stroke="#555" stroke-width="1.0" />
<line x1="235.6" y1="589" x2="235.6" y2="605.4" stroke="#555" stroke-width="1.0" />
<line x1="113.7" y1="605.7" x2="380.6" y2="605.7" stroke="#3c3c3c" stroke-width="1.4" />
<rect x="119.35" y="606.2" width="3.30" height="7.10" stroke="#1c1c1c" stroke-width="1.25" fill="#f4f4f4" rx="1.6" />
<rect x="125.22999999999999" y="606.2" width="3.30" height="7.10" stroke="#1c1c1c" stroke-width="1.25" fill="#f4f4f4" rx="1.6" />
<rect x="131.10999999999999" y="606.2" width="3.30" height="7.10" stroke="#1c1c1c" stroke-width="1.25" fill="#f4f4f4" rx="1.6" />
<rect x="136.98999999999998" y="606.2" width="3.30" height="7.10" stroke="#1c1c1c" stroke-width="1.25" fill="#f4f4f4" rx="1.6" />
<rect x="142.87" y="606.2" width="3.30" height="7.10" stroke="#1c1c1c" stroke-width="1.25" fill="#f4f4f4" rx="1.6" />
<rect x="148.75" y="606.2" width="3.30" height="7.10" stroke="#1c1c1c" stroke-width="1.25" fill="#f4f4f4" rx="1.6" />
<rect x="154.63" y="606.2" width="3.30" height="7.10" stroke="#1c1c1c" stroke-width="1.25" fill="#f4f4f4" rx="1.6" />
<rect x="160.51" y="606.2" width="3.30" height="7.10" stroke="#1c1c1c" stroke-width="1.25" fill="#f4f4f4" rx="1.6" />
<rect x="166.39" y="606.2" width="3.30" height="7.10" stroke="#1c1c1c" stroke-width="1.25" fill="#f4f4f4" rx="1.6" />
<rect x="172.27" y="606.2" width="3.30" height="7.10" stroke="#1c1c1c" stroke-width="1.25" fill="#f4f4f4" rx="1.6" />
<rect x="178.15" y="606.2" width="3.30" height="7.10" stroke="#1c1c1c" stroke-width="1.25" fill="#f4f4f4" rx="1.6" />
<rect x="184.03" y="606.2" width="3.30" height="7.10" stroke="#1c1c1c" stroke-width="1.25" fill="#f4f4f4" rx="1.6" />
<rect x="189.91" y="606.2" width="3.30" height="7.10" stroke="#1c1c1c" stroke-width="1.25" fill="#f4f4f4" rx="1.6" />
<rect x="195.79" y="606.2" width="3.30" height="7.10" stroke="#1c1c1c" stroke-width="1.25" fill="#f4f4f4" rx="1.6" />
<rect x="201.67" y="606.2" width="3.30" height="7.10" stroke="#1c1c1c" stroke-width="1.25" fill="#f4f4f4" rx="1.6" />
<rect x="207.54999999999998" y="606.2" width="3.30" height="7.10" stroke="#1c1c1c" stroke-width="1.25" fill="#f4f4f4" rx="1.6" />
<rect x="213.42999999999998" y="606.2" width="3.30" height="7.10" stroke="#1c1c1c" stroke-width="1.25" fill="#f4f4f4" rx="1.6" />
<rect x="219.30999999999997" y="606.2" width="3.30" height="7.10" stroke="#1c1c1c" stroke-width="1.25" fill="#f4f4f4" rx="1.6" />
<rect x="225.19" y="606.2" width="3.30" height="7.10" stroke="#1c1c1c" stroke-width="1.25" fill="#f4f4f4" rx="1.6" />
<rect x="231.07" y="606.2" width="3.30" height="7.10" stroke="#1c1c1c" stroke-width="1.25" fill="#f4f4f4" rx="1.6" />
<rect x="236.95" y="606.2" width="3.30" height="7.10" stroke="#1c1c1c" stroke-width="1.25" fill="#f4f4f4" rx="1.6" />
<rect x="247.0" y="606.7" width="77.40" height="2.90" stroke="#222" stroke-width="1.2" fill="#f2f2f2" rx="1.5" />
<line x1="113.7" y1="613.5" x2="380.6" y2="613.5" stroke="#999" stroke-width="0.7" />
<line x1="113.7" y1="616.2" x2="380.6" y2="616.2" stroke="#777" stroke-width="0.9" />
<line x1="113.7" y1="627.3" x2="380.6" y2="627.3" stroke="#222" stroke-width="1.5" />
<line x1="113.7" y1="680.2" x2="380.6" y2="680.2" stroke="#222" stroke-width="1.5" />
<line x1="135.6" y1="628.7" x2="276.5" y2="628.7" stroke="#222" stroke-width="1.6" />
<line x1="135.6" y1="678.8" x2="276.5" y2="678.8" stroke="#222" stroke-width="1.6" />
<path d="M135.6,627.5 Q114.6,653.5 135.6,680" stroke="#333" stroke-width="1.0" fill="none" />
<path d="M137.9,627.5 Q116.9,653.5 137.9,680" stroke="#333" stroke-width="1.0" fill="none" />
<path d="M276.5,627.5 Q297.5,653.5 276.5,680" stroke="#333" stroke-width="1.0" fill="none" />
<path d="M278.8,627.5 Q299.8,653.5 278.8,680" stroke="#333" stroke-width="1.0" fill="none" />
<path d="M317,627.3 Q339.5,653.5 317,680" stroke="#222" stroke-width="1.6" fill="none" />
<path d="M318.6,629 Q340.8,653.5 318.6,678" stroke="#999" stroke-width="0.9" fill="none" />
<line x1="129.7" y1="645.3" x2="154.5" y2="645.3" stroke="#555" stroke-width="1.8" stroke-linecap="round"/>
<line x1="259.0" y1="645.3" x2="283.9" y2="645.3" stroke="#555" stroke-width="1.8" stroke-linecap="round"/>
<line x1="129.7" y1="662.3" x2="154.5" y2="662.3" stroke="#555" stroke-width="1.8" stroke-linecap="round"/>
<line x1="259.0" y1="662.3" x2="283.9" y2="662.3" stroke="#555" stroke-width="1.8" stroke-linecap="round"/>
<line x1="113.7" y1="691.6" x2="380.6" y2="691.6" stroke="#444" stroke-width="1.0" />
<line x1="113.7" y1="701.4" x2="380.6" y2="701.4" stroke="#333" stroke-width="1.3" />
<path d="M118.65,701.3 V696.4 Q118.65,694.6 120.40,694.6 Q122.15,694.6 122.15,696.4 V701.3" stroke="#1c1c1c" stroke-width="1.4" fill="#9a9a9a" />
<path d="M124.65,701.3 V696.4 Q124.65,694.6 126.40,694.6 Q128.15,694.6 128.15,696.4 V701.3" stroke="#1c1c1c" stroke-width="1.4" fill="#9a9a9a" />
<path d="M130.65,701.3 V696.4 Q130.65,694.6 132.40,694.6 Q134.15,694.6 134.15,696.4 V701.3" stroke="#1c1c1c" stroke-width="1.4" fill="#9a9a9a" />
<path d="M136.65,701.3 V696.4 Q136.65,694.6 138.40,694.6 Q140.15,694.6 140.15,696.4 V701.3" stroke="#1c1c1c" stroke-width="1.4" fill="#9a9a9a" />
<path d="M142.65,701.3 V696.4 Q142.65,694.6 144.40,694.6 Q146.15,694.6 146.15,696.4 V701.3" stroke="#1c1c1c" stroke-width="1.4" fill="#9a9a9a" />
<path d="M148.65,701.3 V696.4 Q148.65,694.6 150.40,694.6 Q152.15,694.6 152.15,696.4 V701.3" stroke="#1c1c1c" stroke-width="1.4" fill="#9a9a9a" />
<path d="M154.65,701.3 V696.4 Q154.65,694.6 156.40,694.6 Q158.15,694.6 158.15,696.4 V701.3" stroke="#1c1c1c" stroke-width="1.4" fill="#9a9a9a" />
<path d="M160.65,701.3 V696.4 Q160.65,694.6 162.40,694.6 Q164.15,694.6 164.15,696.4 V701.3" stroke="#1c1c1c" stroke-width="1.4" fill="#9a9a9a" />
<line x1="167.1" y1="691.6" x2="167.1" y2="701.4" stroke="#555" stroke-width="1.0" />
<rect x="167.5" y="692.4" width="77.90" height="7.60" stroke="#666" stroke-width="0.8" fill="none" rx="0" />
<rect x="245.4" y="691.6" width="9.30" height="9.80" stroke="#777" stroke-width="0.8" fill="none" rx="0" />
<rect x="255.5" y="692.4" width="75.30" height="7.60" stroke="#666" stroke-width="0.8" fill="none" rx="0" />
<rect x="331.8" y="692.4" width="48.00" height="7.60" stroke="#666" stroke-width="0.8" fill="none" rx="0" />
<rect x="238.8" y="702.6" width="15.90" height="16.20" stroke="#222" stroke-width="1.4" fill="none" rx="0" />
<circle cx="232.80" cy="707.60" r="2.2" stroke="#555" stroke-width="0.9" fill="none"/>
<rect x="257.4" y="703.9" width="2.60" height="8.60" stroke="#666" stroke-width="0.8" fill="none" rx="1.2" />
<rect x="269.3" y="702.0" width="44.80" height="2.40" stroke="#555" stroke-width="0.8" fill="#ddd" rx="1" />
<line x1="113.7" y1="716.9" x2="380.6" y2="716.9" stroke="#888" stroke-width="0.6" />
<rect x="118.6" y="715.8" width="14.60" height="7.60" fill="#6e6e6e"/>
<rect x="119.5" y="717.472" width="5.50" height="1.75" fill="#fafafa"/>
<rect x="119.5" y="720.208" width="5.50" height="2.28" fill="#f0f0f0"/>
<rect x="126.8" y="717.472" width="5.50" height="1.75" fill="#fafafa"/>
<rect x="126.8" y="720.208" width="5.50" height="2.28" fill="#f0f0f0"/>
<rect x="118.3" y="715.5" width="15.20" height="1.20" fill="#1e1e1e"/>
<rect x="120.1" y="723.4" width="12.10" height="10.80" stroke="#333" stroke-width="0.9" fill="#fff" rx="0" />
<circle cx="123.12" cy="728.50" r="2.722499999999999" stroke="#1e1e1e" stroke-width="1.0" fill="#a4a4a4"/>
<line x1="121.355375" y1="730.269625" x2="124.894625" y2="726.730375" stroke="#f0f0f0" stroke-width="0.9" />
<circle cx="129.17" cy="728.50" r="2.722499999999999" stroke="#1e1e1e" stroke-width="1.0" fill="#a4a4a4"/>
<line x1="127.40537499999998" y1="730.269625" x2="130.94462499999997" y2="726.730375" stroke="#f0f0f0" stroke-width="0.9" />
<rect x="119.8" y="733.0" width="12.70" height="1.70" fill="#1e1e1e"/>
<rect x="135.2" y="715.8" width="20.60" height="7.60" fill="#6e6e6e"/>
<rect x="136.1" y="717.472" width="5.07" height="1.75" fill="#fafafa"/>
<rect x="136.1" y="720.208" width="5.07" height="2.28" fill="#f0f0f0"/>
<rect x="142.96666666666667" y="717.472" width="5.07" height="1.75" fill="#fafafa"/>
<rect x="142.96666666666667" y="720.208" width="5.07" height="2.28" fill="#f0f0f0"/>
<rect x="149.83333333333334" y="717.472" width="5.07" height="1.75" fill="#fafafa"/>
<rect x="149.83333333333334" y="720.208" width="5.07" height="2.28" fill="#f0f0f0"/>
<rect x="134.89999999999998" y="715.5" width="21.20" height="1.20" fill="#1e1e1e"/>
<rect x="136.7" y="723.4" width="18.10" height="10.80" stroke="#333" stroke-width="0.9" fill="#fff" rx="0" />
<circle cx="139.72" cy="728.50" r="2.7150000000000034" stroke="#1e1e1e" stroke-width="1.0" fill="#a4a4a4"/>
<line x1="137.95191666666668" y1="730.26475" x2="141.48141666666666" y2="726.73525" stroke="#f0f0f0" stroke-width="0.9" />
<circle cx="145.75" cy="728.50" r="2.7150000000000034" stroke="#1e1e1e" stroke-width="1.0" fill="#a4a4a4"/>
<line x1="143.98525" y1="730.26475" x2="147.51475" y2="726.73525" stroke="#f0f0f0" stroke-width="0.9" />
<circle cx="151.78" cy="728.50" r="2.7150000000000034" stroke="#1e1e1e" stroke-width="1.0" fill="#a4a4a4"/>
<line x1="150.01858333333334" y1="730.26475" x2="153.54808333333332" y2="726.73525" stroke="#f0f0f0" stroke-width="0.9" />
<rect x="136.39999999999998" y="733.0" width="18.70" height="1.70" fill="#1e1e1e"/>
<rect x="165.1" y="715.8" width="33.20" height="7.60" fill="#6e6e6e"/>
<rect x="166.0" y="717.472" width="4.84" height="1.75" fill="#fafafa"/>
<rect x="166.0" y="720.208" width="4.84" height="2.28" fill="#f0f0f0"/>
<rect x="172.64000000000001" y="717.472" width="4.84" height="1.75" fill="#fafafa"/>
<rect x="172.64000000000001" y="720.208" width="4.84" height="2.28" fill="#f0f0f0"/>
<rect x="179.28" y="717.472" width="4.84" height="1.75" fill="#fafafa"/>
<rect x="179.28" y="720.208" width="4.84" height="2.28" fill="#f0f0f0"/>
<rect x="185.92000000000002" y="717.472" width="4.84" height="1.75" fill="#fafafa"/>
<rect x="185.92000000000002" y="720.208" width="4.84" height="2.28" fill="#f0f0f0"/>
<rect x="192.56" y="717.472" width="4.84" height="1.75" fill="#fafafa"/>
<rect x="192.56" y="720.208" width="4.84" height="2.28" fill="#f0f0f0"/>
<rect x="164.79999999999998" y="715.5" width="33.80" height="1.20" fill="#1e1e1e"/>
<rect x="166.6" y="723.4" width="30.70" height="10.80" stroke="#333" stroke-width="0.9" fill="#fff" rx="0" />
<circle cx="169.67" cy="728.50" r="2.7630000000000017" stroke="#1e1e1e" stroke-width="1.0" fill="#a4a4a4"/>
<line x1="167.87404999999998" y1="730.29595" x2="171.46595" y2="726.70405" stroke="#f0f0f0" stroke-width="0.9" />
<circle cx="175.81" cy="728.50" r="2.7630000000000017" stroke="#1e1e1e" stroke-width="1.0" fill="#a4a4a4"/>
<line x1="174.01405" y1="730.29595" x2="177.60595" y2="726.70405" stroke="#f0f0f0" stroke-width="0.9" />
<circle cx="181.95" cy="728.50" r="2.7630000000000017" stroke="#1e1e1e" stroke-width="1.0" fill="#a4a4a4"/>
<line x1="180.15404999999998" y1="730.29595" x2="183.74595" y2="726.70405" stroke="#f0f0f0" stroke-width="0.9" />
<circle cx="188.09" cy="728.50" r="2.7630000000000017" stroke="#1e1e1e" stroke-width="1.0" fill="#a4a4a4"/>
<line x1="186.29405" y1="730.29595" x2="189.88595" y2="726.70405" stroke="#f0f0f0" stroke-width="0.9" />
<circle cx="194.23" cy="728.50" r="2.7630000000000017" stroke="#1e1e1e" stroke-width="1.0" fill="#a4a4a4"/>
<line x1="192.43405" y1="730.29595" x2="196.02595000000002" y2="726.70405" stroke="#f0f0f0" stroke-width="0.9" />
<rect x="166.29999999999998" y="733.0" width="31.30" height="1.70" fill="#1e1e1e"/>
<rect x="199.6" y="715.8" width="25.30" height="7.60" fill="#6e6e6e"/>
<rect x="200.5" y="717.472" width="4.53" height="1.75" fill="#fafafa"/>
<rect x="200.5" y="720.208" width="4.53" height="2.28" fill="#f0f0f0"/>
<rect x="206.82500000000002" y="717.472" width="4.52" height="1.75" fill="#fafafa"/>
<rect x="206.82500000000002" y="720.208" width="4.52" height="2.28" fill="#f0f0f0"/>
<rect x="213.15" y="717.472" width="4.52" height="1.75" fill="#fafafa"/>
<rect x="213.15" y="720.208" width="4.52" height="2.28" fill="#f0f0f0"/>
<rect x="219.475" y="717.472" width="4.52" height="1.75" fill="#fafafa"/>
<rect x="219.475" y="720.208" width="4.52" height="2.28" fill="#f0f0f0"/>
<rect x="199.29999999999998" y="715.5" width="25.90" height="1.20" fill="#1e1e1e"/>
<rect x="201.1" y="723.4" width="22.80" height="10.80" stroke="#333" stroke-width="0.9" fill="#fff" rx="0" />
<circle cx="203.95" cy="728.50" r="2.5650000000000013" stroke="#1e1e1e" stroke-width="1.0" fill="#a4a4a4"/>
<line x1="202.28275" y1="730.16725" x2="205.61724999999998" y2="726.83275" stroke="#f0f0f0" stroke-width="0.9" />
<circle cx="209.65" cy="728.50" r="2.5650000000000013" stroke="#1e1e1e" stroke-width="1.0" fill="#a4a4a4"/>
<line x1="207.98275" y1="730.16725" x2="211.31725" y2="726.83275" stroke="#f0f0f0" stroke-width="0.9" />
<circle cx="215.35" cy="728.50" r="2.5650000000000013" stroke="#1e1e1e" stroke-width="1.0" fill="#a4a4a4"/>
<line x1="213.68275" y1="730.16725" x2="217.01725" y2="726.83275" stroke="#f0f0f0" stroke-width="0.9" />
<circle cx="221.05" cy="728.50" r="2.5650000000000013" stroke="#1e1e1e" stroke-width="1.0" fill="#a4a4a4"/>
<line x1="219.38275000000002" y1="730.16725" x2="222.71725" y2="726.83275" stroke="#f0f0f0" stroke-width="0.9" />
<rect x="200.79999999999998" y="733.0" width="23.40" height="1.70" fill="#1e1e1e"/>
<rect x="263.4" y="715.8" width="36.30" height="7.60" fill="#6e6e6e"/>
<rect x="264.29999999999995" y="717.472" width="4.25" height="1.75" fill="#fafafa"/>
<rect x="264.29999999999995" y="720.208" width="4.25" height="2.28" fill="#f0f0f0"/>
<rect x="270.34999999999997" y="717.472" width="4.25" height="1.75" fill="#fafafa"/>
<rect x="270.34999999999997" y="720.208" width="4.25" height="2.28" fill="#f0f0f0"/>
<rect x="276.4" y="717.472" width="4.25" height="1.75" fill="#fafafa"/>
<rect x="276.4" y="720.208" width="4.25" height="2.28" fill="#f0f0f0"/>
<rect x="282.44999999999993" y="717.472" width="4.25" height="1.75" fill="#fafafa"/>
<rect x="282.44999999999993" y="720.208" width="4.25" height="2.28" fill="#f0f0f0"/>
<rect x="288.49999999999994" y="717.472" width="4.25" height="1.75" fill="#fafafa"/>
<rect x="288.49999999999994" y="720.208" width="4.25" height="2.28" fill="#f0f0f0"/>
<rect x="294.54999999999995" y="717.472" width="4.25" height="1.75" fill="#fafafa"/>
<rect x="294.54999999999995" y="720.208" width="4.25" height="2.28" fill="#f0f0f0"/>
<rect x="263.09999999999997" y="715.5" width="36.90" height="1.20" fill="#1e1e1e"/>
<rect x="264.9" y="723.4" width="33.80" height="10.80" stroke="#333" stroke-width="0.9" fill="#fff" rx="0" />
<circle cx="267.72" cy="728.50" r="2.535000000000001" stroke="#1e1e1e" stroke-width="1.0" fill="#a4a4a4"/>
<line x1="266.06891666666667" y1="730.14775" x2="269.3644166666666" y2="726.85225" stroke="#f0f0f0" stroke-width="0.9" />
<circle cx="273.35" cy="728.50" r="2.535000000000001" stroke="#1e1e1e" stroke-width="1.0" fill="#a4a4a4"/>
<line x1="271.70225" y1="730.14775" x2="274.99774999999994" y2="726.85225" stroke="#f0f0f0" stroke-width="0.9" />
<circle cx="278.98" cy="728.50" r="2.535000000000001" stroke="#1e1e1e" stroke-width="1.0" fill="#a4a4a4"/>
<line x1="277.3355833333333" y1="730.14775" x2="280.63108333333327" y2="726.85225" stroke="#f0f0f0" stroke-width="0.9" />
<circle cx="284.62" cy="728.50" r="2.535000000000001" stroke="#1e1e1e" stroke-width="1.0" fill="#a4a4a4"/>
<line x1="282.9689166666667" y1="730.14775" x2="286.26441666666665" y2="726.85225" stroke="#f0f0f0" stroke-width="0.9" />
<circle cx="290.25" cy="728.50" r="2.535000000000001" stroke="#1e1e1e" stroke-width="1.0" fill="#a4a4a4"/>
<line x1="288.60225" y1="730.14775" x2="291.89775" y2="726.85225" stroke="#f0f0f0" stroke-width="0.9" />
<circle cx="295.88" cy="728.50" r="2.535000000000001" stroke="#1e1e1e" stroke-width="1.0" fill="#a4a4a4"/>
<line x1="294.23558333333335" y1="730.14775" x2="297.5310833333333" y2="726.85225" stroke="#f0f0f0" stroke-width="0.9" />
<rect x="264.59999999999997" y="733.0" width="34.40" height="1.70" fill="#1e1e1e"/>
<rect x="302.0" y="715.8" width="56.20" height="7.60" fill="#6e6e6e"/>
<rect x="302.9" y="717.472" width="4.44" height="1.75" fill="#fafafa"/>
<rect x="302.9" y="720.208" width="4.44" height="2.28" fill="#f0f0f0"/>
<rect x="309.14444444444445" y="717.472" width="4.44" height="1.75" fill="#fafafa"/>
<rect x="309.14444444444445" y="720.208" width="4.44" height="2.28" fill="#f0f0f0"/>
<rect x="315.38888888888886" y="717.472" width="4.44" height="1.75" fill="#fafafa"/>
<rect x="315.38888888888886" y="720.208" width="4.44" height="2.28" fill="#f0f0f0"/>
<rect x="321.6333333333333" y="717.472" width="4.44" height="1.75" fill="#fafafa"/>
<rect x="321.6333333333333" y="720.208" width="4.44" height="2.28" fill="#f0f0f0"/>
<rect x="327.87777777777774" y="717.472" width="4.44" height="1.75" fill="#fafafa"/>
<rect x="327.87777777777774" y="720.208" width="4.44" height="2.28" fill="#f0f0f0"/>
<rect x="334.1222222222222" y="717.472" width="4.44" height="1.75" fill="#fafafa"/>
<rect x="334.1222222222222" y="720.208" width="4.44" height="2.28" fill="#f0f0f0"/>
<rect x="340.3666666666666" y="717.472" width="4.44" height="1.75" fill="#fafafa"/>
<rect x="340.3666666666666" y="720.208" width="4.44" height="2.28" fill="#f0f0f0"/>
<rect x="346.6111111111111" y="717.472" width="4.44" height="1.75" fill="#fafafa"/>
<rect x="346.6111111111111" y="720.208" width="4.44" height="2.28" fill="#f0f0f0"/>
<rect x="352.8555555555555" y="717.472" width="4.44" height="1.75" fill="#fafafa"/>
<rect x="352.8555555555555" y="720.208" width="4.44" height="2.28" fill="#f0f0f0"/>
<rect x="301.7" y="715.5" width="56.80" height="1.20" fill="#1e1e1e"/>
<rect x="303.5" y="723.4" width="53.70" height="10.80" stroke="#333" stroke-width="0.9" fill="#fff" rx="0" />
<circle cx="306.48" cy="728.50" r="2.684999999999999" stroke="#1e1e1e" stroke-width="1.0" fill="#a4a4a4"/>
<line x1="304.73808333333335" y1="730.24525" x2="308.22858333333335" y2="726.75475" stroke="#f0f0f0" stroke-width="0.9" />
<circle cx="312.45" cy="728.50" r="2.684999999999999" stroke="#1e1e1e" stroke-width="1.0" fill="#a4a4a4"/>
<line x1="310.70475" y1="730.24525" x2="314.19525" y2="726.75475" stroke="#f0f0f0" stroke-width="0.9" />
<circle cx="318.42" cy="728.50" r="2.684999999999999" stroke="#1e1e1e" stroke-width="1.0" fill="#a4a4a4"/>
<line x1="316.6714166666667" y1="730.24525" x2="320.1619166666667" y2="726.75475" stroke="#f0f0f0" stroke-width="0.9" />
<circle cx="324.38" cy="728.50" r="2.684999999999999" stroke="#1e1e1e" stroke-width="1.0" fill="#a4a4a4"/>
<line x1="322.6380833333333" y1="730.24525" x2="326.1285833333333" y2="726.75475" stroke="#f0f0f0" stroke-width="0.9" />
<circle cx="330.35" cy="728.50" r="2.684999999999999" stroke="#1e1e1e" stroke-width="1.0" fill="#a4a4a4"/>
<line x1="328.60475" y1="730.24525" x2="332.09525" y2="726.75475" stroke="#f0f0f0" stroke-width="0.9" />
<circle cx="336.32" cy="728.50" r="2.684999999999999" stroke="#1e1e1e" stroke-width="1.0" fill="#a4a4a4"/>
<line x1="334.57141666666666" y1="730.24525" x2="338.06191666666666" y2="726.75475" stroke="#f0f0f0" stroke-width="0.9" />
<circle cx="342.28" cy="728.50" r="2.684999999999999" stroke="#1e1e1e" stroke-width="1.0" fill="#a4a4a4"/>
<line x1="340.5380833333333" y1="730.24525" x2="344.0285833333333" y2="726.75475" stroke="#f0f0f0" stroke-width="0.9" />
<circle cx="348.25" cy="728.50" r="2.684999999999999" stroke="#1e1e1e" stroke-width="1.0" fill="#a4a4a4"/>
<line x1="346.50475" y1="730.24525" x2="349.99525" y2="726.75475" stroke="#f0f0f0" stroke-width="0.9" />
<circle cx="354.22" cy="728.50" r="2.684999999999999" stroke="#1e1e1e" stroke-width="1.0" fill="#a4a4a4"/>
<line x1="352.47141666666664" y1="730.24525" x2="355.96191666666664" y2="726.75475" stroke="#f0f0f0" stroke-width="0.9" />
<rect x="303.2" y="733.0" width="54.30" height="1.70" fill="#1e1e1e"/>
<rect x="156.5" y="715.6" width="7.90" height="1.80" fill="#333"/>
<!-- footer -->
<line x1="568.3" y1="929.2" x2="568.3" y2="944.9" stroke="#777" stroke-width="1.2"/>
<g transform="translate(577.7,932.6) scale(0.281,0.273) translate(-474.7,-23.7)"><g>
<rect x="476.7" y="25.7" width="138.8" height="30.1" rx="15" ry="15" fill="#fff" stroke="url(#wg)" stroke-width="4.6"/>
<g fill="url(#wg2)" stroke="url(#wg2)" stroke-width="0.9" stroke-linejoin="round">
<path d="M490.9,32.4 H498.3 V35.0 H497.6 L500.5,44.2 L503.3,36.0 H507.6 L510.3,44.2 L512.2,35.0 H511.0 V32.4 H517.6 V35.0 H516.6 L512.0,49.4 H506.6 L505.3,44.6 L503.8,49.4 H497.6 L492.4,35.0 H490.9 Z"/>
<path fill-rule="evenodd" d="M541.4,32.4 V46.6 H542.2 V49.4 H535.9 V47.6 C534.5,49 532.6,49.6 530.4,49.6 C524.8,49.6 520.8,45.8 520.8,40.9 C520.8,36 524.8,32.2 530.4,32.2 C532.6,32.2 534.6,33 535.9,34.4 V32.4 Z M530,37.2 C527.4,37.2 525.6,38.8 525.6,40.9 C525.6,43 527.4,44.6 530,44.6 C532.6,44.6 534.4,43 534.4,40.9 C534.4,38.8 532.6,37.2 530,37.2 Z"/>
<path d="M544,32.6 H551 V35.2 H550.4 L554,44.4 L557.4,35.2 H556.6 V32.6 H562.8 V35.2 H561.9 L557.3,49.4 H550.7 L545.1,35.2 H544 Z"/>
<path d="M566.7,32.2 H574.6 V46.6 H576.2 V49.4 H566.7 V46.6 H569.1 V35.1 H566.7 Z"/>
<path d="M581,32.2 H588.1 V34.2 C589.6,32.6 591.4,31.8 593.6,31.8 C597.6,31.8 599.7,34.2 599.7,38.4 V46.6 H601.7 V49.4 H593.9 V39.4 C593.9,37.4 593,36.4 591.4,36.4 C589.6,36.4 588.1,37.6 588.1,39.6 V46.6 H589.8 V49.4 H581 V46.6 H582.4 V35.1 H581 Z"/>
</g>
</g></g>
</svg>
<div class="t" style="left:53.4px;top:199.3px;font-size:9.7px;font-weight:bold;color:#174480;letter-spacing:0.22px;">Dimensionali</div>
<div class="t" style="left:53.2px;top:222.6px;font-size:9.4px;font-weight:bold;color:#161616;letter-spacing:0.06px;">Centralina RKB-2 7</div>
<div class="t" style="left:53.2px;top:534.0px;font-size:9.4px;font-weight:bold;color:#161616;letter-spacing:0.06px;">Centralina RKB-2 8</div>
<div class="t" style="left:53.3px;top:932.8px;font-size:9.8px;font-weight:bold;color:#161616;letter-spacing:0.15px;">www.wavin.it</div>
<div class="t" style="left:389.8px;top:933.4px;font-size:9.4px;font-weight:bold;color:#161616;letter-spacing:0px;">Controlli e Termostati</div>
<div class="t" style="left:491.3px;top:932.9px;font-size:9.8px;color:#333;letter-spacing:0.1px;">Guida Prodotto</div>
<div class="t" style="left:642px;top:932.9px;font-size:9.6px;font-weight:bold;color:#161616;">79</div>
</body></html>
